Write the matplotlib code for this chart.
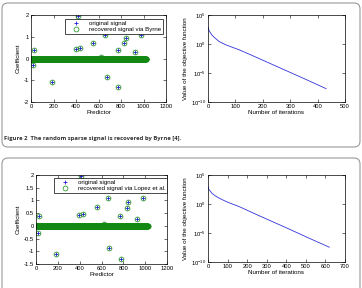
import numpy as np
import matplotlib
matplotlib.use("Agg")
import matplotlib.pyplot as plt
from matplotlib.patches import FancyBboxPatch
from matplotlib.transforms import IdentityTransform

plt.rcParams['font.family'] = ['Liberation Sans', 'DejaVu Sans']
plt.rcParams['mathtext.fontset'] = 'custom'
plt.rcParams['mathtext.rm'] = 'Liberation Sans'

# sparse signal: positions and values of the nonzero entries
n_predictors = 1024
spike_idx = [14, 30, 184, 396, 415, 434, 554, 625, 658, 671, 771, 776, 830, 846, 926, 975]
spike_val = [-0.28, 0.38, -1.1, 0.43, 1.95, 0.48, 0.73, 0.08, 1.1, -0.87, 0.38, -1.32,
             0.70, 0.92, 0.28, 1.1]

# objective function (log10)
byrne_iter = [0, 5, 15, 25, 40, 63, 85, 112, 160, 250, 350, 431]
byrne_log_obj = [2.9, 2.2, 1.5, 1.05, 0.45, -0.1, -0.5, -0.97, -1.95, -3.85, -5.95, -7.7]
lopez_iter = [0, 5, 20, 35, 54, 88, 120, 156, 250, 400, 520, 620]
lopez_log_obj = [3.0, 2.5, 1.86, 1.45, 1.06, 0.5, 0.05, -0.4, -1.85, -4.1, -5.95, -7.45]

W, H = 362, 288
fig = plt.figure(figsize=(W / 100, H / 100), dpi=100)


def px_axes(x0, y0, x1, y1):
    # pixel box (top-down) -> figure fraction axes
    return fig.add_axes([x0 / W, 1 - y1 / H, (x1 - x0) / W, (y1 - y0) / H])


def rounded_box(x0, y0, x1, y1):
    box = FancyBboxPatch((x0, H - y1), x1 - x0, y1 - y0,
                         boxstyle="round,pad=0,rounding_size=6",
                         transform=IdentityTransform(), facecolor='none',
                         edgecolor='#9a9a9a', linewidth=0.8)
    fig.patches.append(box)


def style_axes(ax):
    ax.tick_params(direction='in', length=2, width=0.4, labelsize=4.2, pad=1.5,
                   top=True, right=True)
    ax.tick_params(which='minor', length=0)
    for s in ax.spines.values():
        s.set_linewidth(0.5)


original = np.zeros(n_predictors)
original[spike_idx] = spike_val
recovered = original.copy()
x_pred = np.arange(1, n_predictors + 1)


def signal_plot(ax, label, yticks, ylim, legend_anchor):
    ax.plot(x_pred, original, '+', color='#2020d0', markersize=3.5, markeredgewidth=0.6,
            label='original signal')
    ax.plot(x_pred, recovered, 'o', color='#138a13', markerfacecolor='none',
            markersize=3.5, markeredgewidth=0.5, label=label)
    ax.set_xlim(0, 1200)
    ax.set_ylim(*ylim)
    ax.set_xticks(range(0, 1201, 200))
    ax.set_yticks(yticks)
    ax.set_yticklabels([f"{t:g}" for t in yticks])
    ax.set_xlabel("Predictor", fontsize=4.5, labelpad=1)
    ax.set_ylabel("Coefficient", fontsize=4.5, labelpad=2)
    style_axes(ax)
    leg = ax.legend(loc='upper right', bbox_to_anchor=legend_anchor, fontsize=4.4,
                    fancybox=False, framealpha=1, edgecolor='black', borderpad=0.25,
                    labelspacing=0.2, handlelength=3.0, handletextpad=0.6,
                    borderaxespad=0)
    leg.get_frame().set_linewidth(0.5)


def objective_plot(ax, iters, log_obj, xmax):
    ax.semilogy(iters, 10.0 ** np.array(log_obj), color='#3333dd', linewidth=0.6)
    ax.set_xlim(0, xmax)
    ax.set_ylim(1e-10, 1e5)
    ax.set_yticks([1e-10, 1e-5, 1e0, 1e5])
    ax.set_yticklabels([r'$10^{-10}$', r'$10^{-5}$', r'$10^{0}$', r'$10^{5}$'])
    ax.set_xticks(range(0, xmax + 1, 100))
    ax.set_xlabel("Number of iterations", fontsize=4.5, labelpad=1)
    ax.set_ylabel("Value of the objective function", fontsize=4.5, labelpad=2)
    style_axes(ax)


# figure 2 (Byrne)
rounded_box(2, 3, 360, 147)
ax1 = px_axes(31, 15, 166, 102)
signal_plot(ax1, 'recovered signal via Byrne', [-2, -1, 0, 1, 2], (-2, 2), (0.975, 0.955))
ax2 = px_axes(208, 15, 345, 102)
objective_plot(ax2, byrne_iter, byrne_log_obj, 500)
fig.text(4.5 / W, 1 - 138 / H, "Figure 2  The random sparse signal is recovered by Byrne [4].",
         fontsize=4.2, fontweight='bold', color='#333333', va='center',
         family=['Open Sans', 'DejaVu Sans'])

# next figure (Lopez et al.)
rounded_box(2, 158, 360, 300)
ax3 = px_axes(36, 175, 167, 264)
signal_plot(ax3, 'recovered signal via Lopez et al.', [-1.5, -1, -0.5, 0, 0.5, 1, 1.5, 2],
            (-1.5, 2), (1.0, 0.965))
ax4 = px_axes(208, 175, 345, 262)
objective_plot(ax4, lopez_iter, lopez_log_obj, 700)

fig.savefig("out.png", dpi=100)
